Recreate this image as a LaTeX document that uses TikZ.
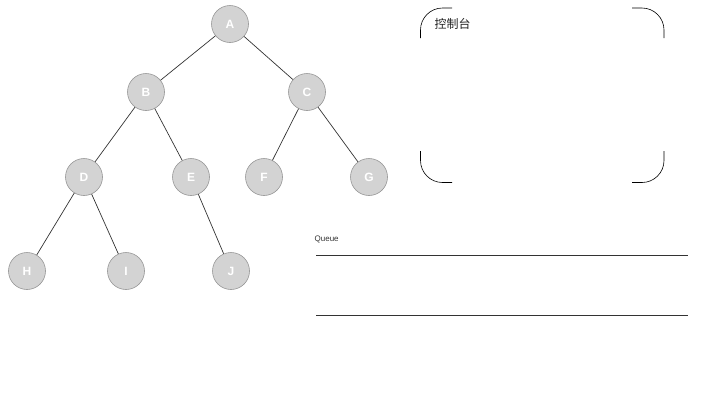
\documentclass[tikz,border=0pt]{standalone}
\usepackage{fontspec}
\setmainfont{Liberation Sans}
\newfontfamily\cjk{Noto Sans CJK SC}
\usetikzlibrary{positioning}

\begin{document}
\begin{tikzpicture}[
            x=1pt, y=-1pt,
            on grid,
            semithick
        ]

        \tikzset{
            vertex/.style={
                circle,
                minimum size=37pt,
                inner sep=0pt,
                draw={rgb,255:red,150;green,150;blue,150},
                fill={rgb,255:red,211;green,211;blue,211},
                text=white,
                font=\fontsize{12}{14}\selectfont\bfseries
            },
            link/.style={draw={rgb,255:red,51;green,51;blue,51}, line width=0.7pt},
            frame/.style={draw=black, line width=0.6pt, rounded corners=22pt}
        }

        \useasboundingbox (0,0) rectangle (720,405);

		\node[vertex] (a) at (230,24) {A};
		\node[vertex] (b) [below left=68pt and 84pt of a] {B};
		\node[vertex] (c) [below right=68pt and 77pt of a] {C};
		\node[vertex] (d) [below left=85pt and 62pt of b] {D};
		\node[vertex] (e) [below right=85pt and 45pt of b] {E};
		\node[vertex] (f) [below left=85pt and 43pt of c] {F};
		\node[vertex] (g) [below right=85pt and 62pt of c] {G};
		\node[vertex] (h) [below left=94pt and 57pt of d] {H};
		\node[vertex] (i) [below right=94pt and 42pt of d] {I};
		\node[vertex] (j) [below right=94pt and 40pt of e] {J};

        \path[link] (a) edge (b);
        \path[link] (a) edge (c);
        \path[link] (b) edge (d);
        \path[link] (b) edge (e);
        \path[link] (c) edge (f);
        \path[link] (c) edge (g);
        \path[link] (d) edge (h);
        \path[link] (d) edge (i);
        \path[link] (e) edge (j);

        % console box, only its corners
        \draw[frame] (420.5,38) |- (452,8);
        \draw[frame] (632,8) -| (664,38);
        \draw[frame] (420.5,151) |- (452,182.5);
        \draw[frame] (632,182.5) -| (664,151);
        \node[anchor=west, text={rgb,255:red,34;green,34;blue,34}, font=\cjk\fontsize{12}{14}\selectfont] (console) at (431,24) {控制台};

        % queue
        \node[anchor=west, text={rgb,255:red,51;green,51;blue,51}, font=\fontsize{8}{10}\selectfont] (queue) at (311,239) {Queue};
        \coordinate (q1) at (316,255.5);
        \coordinate (q2) at (688,255.5);
        \coordinate (q3) at (316,315.5);
        \coordinate (q4) at (688,315.5);
        \path[link] (q1) edge (q2);
        \path[link] (q3) edge (q4);
    \end{tikzpicture}
\end{document}
